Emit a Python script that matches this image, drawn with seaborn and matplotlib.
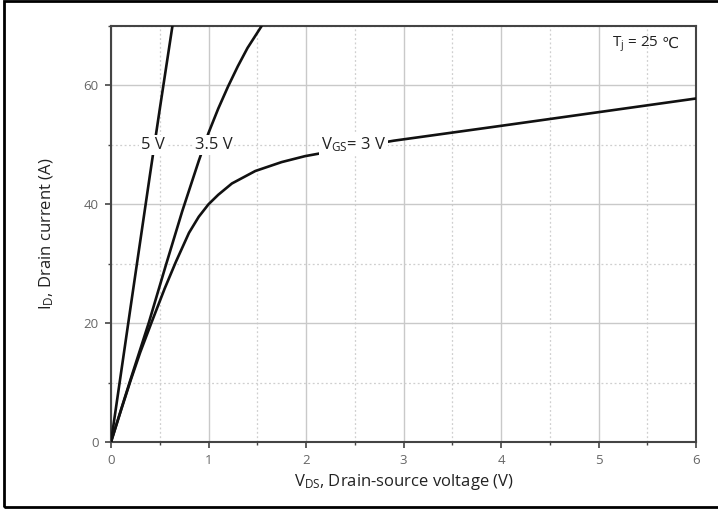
import numpy as np
import pandas as pd
import matplotlib
matplotlib.use("Agg")
import matplotlib.pyplot as plt
from matplotlib.ticker import MultipleLocator
from matplotlib.patches import Rectangle
import seaborn as sns

# ---- data ----
vds_5 = [0, 0.1, 0.2, 0.3, 0.4, 0.5, 0.63]
id_5 = [0, 11.3, 22.6, 33.8, 45.0, 56.0, 70.0]

vds_35 = [0, 0.1, 0.2, 0.39, 0.56, 0.73, 0.9, 1.0, 1.1, 1.2, 1.3, 1.4, 1.545]
id_35 = [0, 5.3, 10.5, 20.2, 29.6, 38.8, 47.3, 52.0, 56.1, 59.8, 63.2, 66.3, 70.0]

vds_3 = [0, 0.1, 0.2, 0.3, 0.42, 0.55, 0.665, 0.8, 0.9, 1.0, 1.1, 1.24, 1.48, 1.75,
         1.99, 2.19, 2.9, 4.0, 5.0, 6.0]
id_3 = [0, 5.2, 10.3, 15.1, 20.3, 25.8, 30.3, 35.2, 37.9, 40.0, 41.6, 43.5, 45.6, 47.1,
        48.1, 48.7, 50.7, 53.2, 55.5, 57.8]

curve_names = ["5 V", "3.5 V", "3 V"]
label_texts = ["5 V", "3.5 V", r"V$_{GS}$= 3 V"]
label_x = [0.43, 1.05, 2.49]
label_y = [50, 50, 50]

x_ticks = [0, 1, 2, 3, 4, 5, 6]
y_ticks = [0, 20, 40, 60]

frames = []
for name, xs, ys in zip(curve_names, [vds_5, vds_35, vds_3], [id_5, id_35, id_3]):
    frames.append(pd.DataFrame({"vds": xs, "id": ys, "vgs": name}))
df = pd.concat(frames, ignore_index=True)

sns.set_style("ticks")
plt.rcParams["font.family"] = ["Open Sans", "DejaVu Sans"]
plt.rcParams["mathtext.default"] = "regular"

fig = plt.figure(figsize=(7.18, 5.09), dpi=100)
ax = fig.add_axes([111 / 718, 1 - 442 / 509, 585 / 718, 416 / 509])

sns.lineplot(data=df, x="vds", y="id", hue="vgs", palette=["#111111"] * 3,
             linewidth=1.9, legend=False, ax=ax, sort=False, zorder=3)

ax.set_xlim(0, 6)
ax.set_ylim(0, 70)
ax.set_xticks(x_ticks)
ax.set_yticks(y_ticks)
ax.xaxis.set_minor_locator(MultipleLocator(0.5))
ax.yaxis.set_minor_locator(MultipleLocator(10))

ax.grid(which="major", color="#c9c9c9", linewidth=1.0, linestyle="-", zorder=0)
ax.grid(which="minor", color="#cfcfcf", linewidth=0.9, linestyle=(0, (1.5, 2.0)), zorder=0)
ax.set_axisbelow(True)

for sp in ax.spines.values():
    sp.set_color("#444444")
    sp.set_linewidth(1.5)
    sp.set_visible(True)

ax.tick_params(which="major", direction="out", length=4, width=1.2, color="#444444",
               labelsize=9.5, labelcolor="#666666", pad=5)
ax.tick_params(which="minor", direction="out", length=2.5, width=1.0, color="#444444")

ax.set_xlabel(r"V$_{DS}$, Drain-source voltage (V)", fontsize=12, color="#222222", labelpad=3)
ax.set_ylabel(r"I$_{D}$, Drain current (A)", fontsize=12, color="#222222", labelpad=20)

for t, x, y in zip(label_texts, label_x, label_y):
    ax.text(x, y, t, ha="center", va="center", fontsize=12, color="#222222", zorder=5,
            bbox=dict(facecolor="white", edgecolor="none", pad=1.5))

ax.text(5.82, 67.0, "℃", ha="right", va="center", fontsize=11,
        color="#222222", zorder=5, family=["DejaVu Sans"])
ax.annotate(r"T$_j$ = 25", xy=(5.82, 67.0), xytext=(-14, 0), textcoords="offset points",
            ha="right", va="center", fontsize=11, color="#222222", zorder=5)

fig.patches.append(Rectangle((4 / 718, 2 / 509), 720 / 718, 506 / 509,
                             transform=fig.transFigure, fill=False,
                             edgecolor="black", linewidth=2.0))

fig.savefig("out.png", dpi=100)
